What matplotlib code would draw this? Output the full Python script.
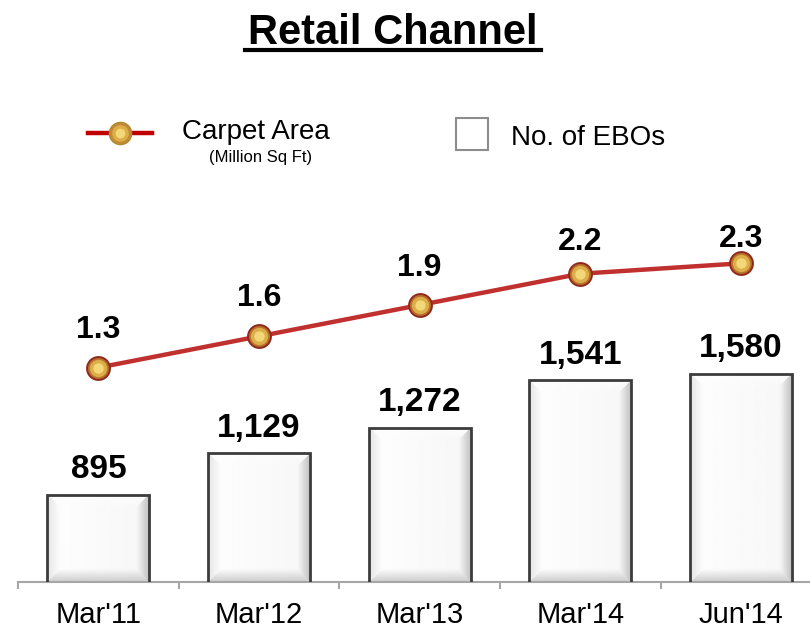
import matplotlib
matplotlib.use("Agg")
import matplotlib.pyplot as plt
import numpy as np
from matplotlib.lines import Line2D
from matplotlib.patches import Rectangle

plt.rcParams['font.family'] = ['Liberation Sans', 'DejaVu Sans']

# data
periods = ["Mar'11", "Mar'12", "Mar'13", "Mar'14", "Jun'14"]
ebos = [895, 1129, 1272, 1541, 1580]
carpet_area = [1.3, 1.6, 1.9, 2.2, 2.3]   # million sq ft

W, H = 810, 630
fig = plt.figure(figsize=(W / 100, H / 100), dpi=100)
ax = fig.add_axes([18 / W, 48 / H, (W - 18) / W, 382 / H])

x = np.arange(len(periods))
ax.set_xlim(-0.5, 4.43)
ax.set_ylim(400, 2563)

# bars: outline only, bevel shading is painted underneath
bars = ax.bar(x, ebos, width=0.635, facecolor='none', edgecolor='#3C3C3C',
              linewidth=2, zorder=3)


def bevel(w_px, h_px, bw=13):
    X, Y = np.meshgrid(np.arange(w_px) + 0.5, np.arange(h_px) + 0.5)
    d = np.stack([X, w_px - X, Y, h_px - Y])   # left, right, top, bottom
    idx = d.argmin(0)
    t = np.clip(d.min(0) / bw, 0, 1)
    edge = np.array([0.90, 0.74, 0.99, 0.80])[idx]
    inner = 0.995 - 0.03 * (X / w_px)
    return edge + (inner - edge) * t


y0 = ax.get_ylim()[0]
for b in bars:
    bx, bw_ = b.get_x(), b.get_width()
    top = b.get_height()
    p0 = ax.transData.transform((bx, y0))
    p1 = ax.transData.transform((bx + bw_, top))
    img = bevel(int(round(p1[0] - p0[0])), max(int(round(p1[1] - p0[1])), 2))
    ax.imshow(img, cmap='gray', vmin=0, vmax=1, extent=[bx, bx + bw_, y0, top],
              aspect='auto', origin='upper', zorder=2, interpolation='bilinear')
ax.set_xlim(-0.5, 4.43)
ax.set_ylim(400, 2563)

for xi, v in zip(x, ebos):
    ax.annotate(f"{v:,}", (xi, v), xytext=(0, 12), textcoords='offset points',
                ha='center', va='baseline', fontsize=24, fontweight='bold')

# axis styling
for s in ['left', 'right', 'top']:
    ax.spines[s].set_visible(False)
ax.spines['bottom'].set_color('#A6A6A6')
ax.spines['bottom'].set_linewidth(1.5)
ax.set_yticks([])
ax.set_xticks(x)
ax.set_xticklabels(periods, fontsize=21)
ax.set_xticks(np.arange(-0.5, 4.5, 1), minor=True)
ax.tick_params(axis='x', which='major', length=0, pad=14)
ax.tick_params(axis='x', which='minor', length=5, width=1.5, color='#A6A6A6',
               direction='out')

# carpet area line
ax2 = ax.twinx()
ax2.set_ylim(-0.755, 2.907)
ax2.axis('off')
ax2.plot(x, carpet_area, color='#C0302E', linewidth=3.2, zorder=4)
# layered markers to give a shaded sphere look
ax2.plot(x, carpet_area, linestyle='none', marker='o', markersize=16.5,
         markerfacecolor='#B8702C', markeredgecolor='#8E2A1C', markeredgewidth=1.4,
         zorder=5)
ax2.plot(x, carpet_area, linestyle='none', marker='o', markersize=12.5,
         markerfacecolor='#DDAE48', markeredgecolor='none', zorder=6)
ax2.plot(x, carpet_area, linestyle='none', marker='o', markersize=7.5,
         markerfacecolor='#F2D879', markeredgecolor='none', zorder=7)

label_offsets = [21, 22, 21, 17, 12]   # points above marker
for xi, v, off in zip(x, carpet_area, label_offsets):
    ax2.annotate(f"{v:.1f}", (xi, v), xytext=(0, off), textcoords='offset points',
                 ha='center', va='baseline', fontsize=23, fontweight='bold')

# title
fig.text(393 / W, 1 - 44 / H, "Retail Channel", ha='center', va='baseline',
         fontsize=30, fontweight='bold')
fig.add_artist(Line2D([245 / W, 541 / W], [1 - 50 / H, 1 - 50 / H],
                      transform=fig.transFigure, color='black', linewidth=3))

# legend
ly = 1 - 133 / H
fig.add_artist(Line2D([88 / W, 152 / W], [ly, ly], transform=fig.transFigure,
                      color='#C00000', linewidth=3.2))
for ms, fc, ec in [(16, '#C08A36', '#B08A30'), (12, '#DDAE48', 'none'),
                   (7, '#F2D879', 'none')]:
    fig.add_artist(Line2D([120 / W], [ly], transform=fig.transFigure, marker='o',
                          markersize=ms, markerfacecolor=fc, markeredgecolor=ec,
                          markeredgewidth=1))
fig.text(182 / W, 1 - 139 / H, "Carpet Area", ha='left', va='baseline', fontsize=20)
fig.text(261 / W, 1 - 162 / H, "(Million Sq Ft)", ha='center', va='baseline',
         fontsize=12)
fig.add_artist(Rectangle((456 / W, 1 - 150 / H), 32 / W, 32 / H,
                         transform=fig.transFigure, facecolor='white',
                         edgecolor='#8C8C8C', linewidth=1.5))
fig.text(511 / W, 1 - 145 / H, "No. of EBOs", ha='left', va='baseline', fontsize=20)

fig.savefig("out.png", dpi=100)
